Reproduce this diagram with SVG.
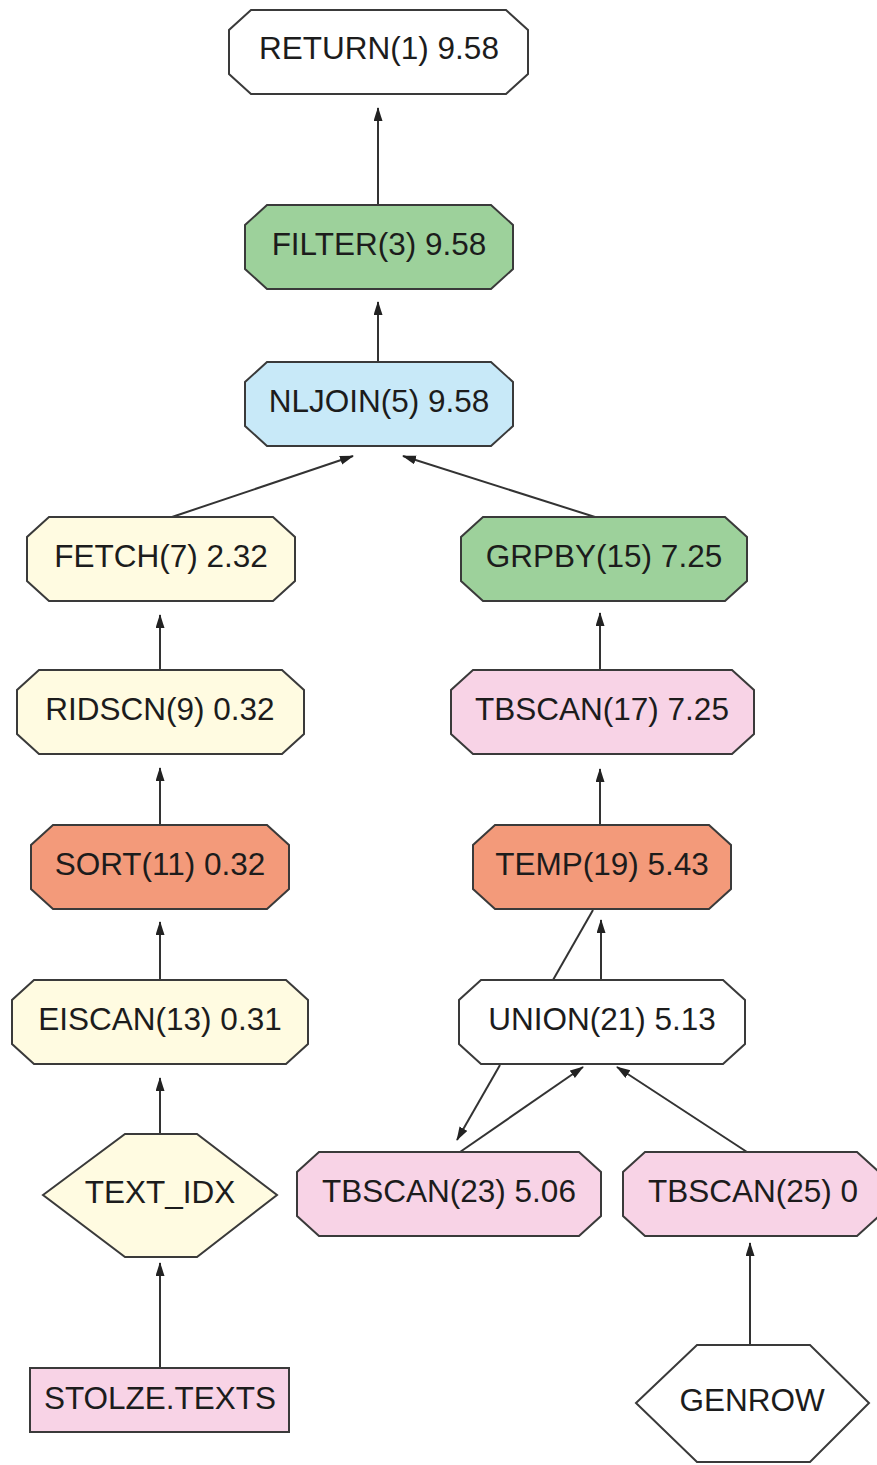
<svg xmlns="http://www.w3.org/2000/svg" width="877" height="1465" viewBox="0 0 877 1465">
<style>
.n{stroke:#3a3a3a;stroke-width:2;stroke-linejoin:miter}
.w{fill:#ffffff}.g{fill:#9dd19b}.b{fill:#c8e9f8}.c{fill:#fffbe1}.p{fill:#f8d3e6}.s{fill:#f39a7a}
text{font-family:"Liberation Sans",Arial,sans-serif;font-size:31.5px;fill:#1c1c1c;text-anchor:middle}
.e{stroke:#333;stroke-width:2;fill:none}
</style>
<defs>
<marker id="a" markerUnits="userSpaceOnUse" markerWidth="14" markerHeight="10" refX="13" refY="4.5" orient="auto">
<path d="M0,0 L14,4.5 L0,9 z" fill="#222"/>
</marker>
</defs>
<rect width="877" height="1465" fill="#fff"/>
<g id="connectors">
<line class="e" x1="378" y1="205" x2="378" y2="108" marker-end="url(#a)"/>
<line class="e" x1="378" y1="362" x2="378" y2="302" marker-end="url(#a)"/>
<line class="e" x1="172" y1="517" x2="353" y2="456" marker-end="url(#a)"/>
<line class="e" x1="595" y1="517" x2="403" y2="456" marker-end="url(#a)"/>
<line class="e" x1="160" y1="670" x2="160" y2="615" marker-end="url(#a)"/>
<line class="e" x1="600" y1="670" x2="600" y2="613" marker-end="url(#a)"/>
<line class="e" x1="160" y1="825" x2="160" y2="768" marker-end="url(#a)"/>
<line class="e" x1="600" y1="825" x2="600" y2="769" marker-end="url(#a)"/>
<line class="e" x1="160" y1="980" x2="160" y2="922" marker-end="url(#a)"/>
<line class="e" x1="601" y1="980" x2="601" y2="920" marker-end="url(#a)"/>
<line class="e" x1="593" y1="910" x2="553" y2="980"/>
<line class="e" x1="500" y1="1065" x2="457" y2="1140" marker-end="url(#a)"/>
<line class="e" x1="460" y1="1152" x2="583" y2="1067" marker-end="url(#a)"/>
<line class="e" x1="747" y1="1152" x2="617" y2="1067" marker-end="url(#a)"/>
<line class="e" x1="160" y1="1134" x2="160" y2="1078" marker-end="url(#a)"/>
<line class="e" x1="160" y1="1368" x2="160" y2="1263" marker-end="url(#a)"/>
<line class="e" x1="750" y1="1345" x2="750" y2="1243" marker-end="url(#a)"/>
</g>
<g id="return1"><polygon class="n w" points="251,10 506,10 528,30 528,74 506,94 251,94 229,74 229,30"/><text x="379" y="59">RETURN(1) 9.58</text></g>
<g id="filter3"><polygon class="n g" points="267,205 491,205 513,225 513,269 491,289 267,289 245,269 245,225"/><text x="379" y="255">FILTER(3) 9.58</text></g>
<g id="nljoin5"><polygon class="n b" points="267,362 491,362 513,382 513,426 491,446 267,446 245,426 245,382"/><text x="379" y="412">NLJOIN(5) 9.58</text></g>
<g id="fetch7"><polygon class="n c" points="49,517 273,517 295,537 295,581 273,601 49,601 27,581 27,537"/><text x="161" y="567">FETCH(7) 2.32</text></g>
<g id="grpby15"><polygon class="n g" points="483,517 725,517 747,537 747,581 725,601 483,601 461,581 461,537"/><text x="604" y="567">GRPBY(15) 7.25</text></g>
<g id="ridscn9"><polygon class="n c" points="39,670 282,670 304,690 304,734 282,754 39,754 17,734 17,690"/><text x="160" y="720">RIDSCN(9) 0.32</text></g>
<g id="tbscan17"><polygon class="n p" points="473,670 732,670 754,690 754,734 732,754 473,754 451,734 451,690"/><text x="602" y="720">TBSCAN(17) 7.25</text></g>
<g id="sort11"><polygon class="n s" points="53,825 267,825 289,845 289,889 267,909 53,909 31,889 31,845"/><text x="160" y="875">SORT(11) 0.32</text></g>
<g id="temp19"><polygon class="n s" points="495,825 709,825 731,845 731,889 709,909 495,909 473,889 473,845"/><text x="602" y="875">TEMP(19) 5.43</text></g>
<g id="eiscan13"><polygon class="n c" points="34,980 286,980 308,1000 308,1044 286,1064 34,1064 12,1044 12,1000"/><text x="160" y="1030">EISCAN(13) 0.31</text></g>
<g id="union21"><polygon class="n w" points="481,980 723,980 745,1000 745,1044 723,1064 481,1064 459,1044 459,1000"/><text x="602" y="1030">UNION(21) 5.13</text></g>
<g id="textidx"><polygon class="n c" points="43,1195 125,1134 197,1134 277,1195 197,1257 125,1257"/><text x="160" y="1203">TEXT_IDX</text></g>
<g id="tbscan23"><polygon class="n p" points="319,1152 579,1152 601,1172 601,1216 579,1236 319,1236 297,1216 297,1172"/><text x="449" y="1202">TBSCAN(23) 5.06</text></g>
<g id="tbscan25"><polygon class="n p" points="645,1152 857,1152 879,1172 879,1216 857,1236 645,1236 623,1216 623,1172"/><text x="753" y="1202">TBSCAN(25) 0</text></g>
<g id="stolzetexts"><rect class="n p" x="30" y="1368" width="259" height="64"/><text x="160" y="1409">STOLZE.TEXTS</text></g>
<g id="genrow"><polygon class="n w" points="636,1403 697,1345 810,1345 869,1403 810,1462 697,1462"/><text x="752" y="1411">GENROW</text></g>
</svg>
